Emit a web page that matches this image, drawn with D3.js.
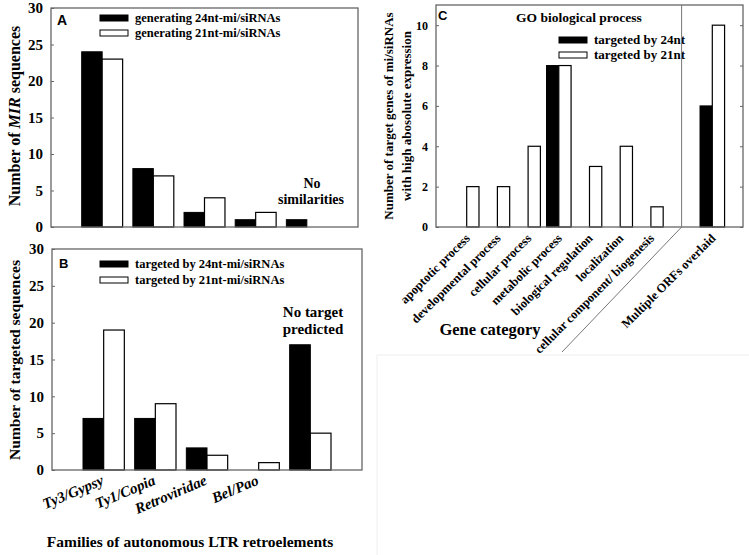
<!DOCTYPE html>
<html>
<head>
<meta charset="utf-8">
<script src="https://cdn.jsdelivr.net/npm/d3@7.9.0/dist/d3.min.js"></script>
<style>
  body { margin: 0; background: #fff; }
  svg { display: block; }
  text { font-family: "Liberation Serif", "Times New Roman", serif; font-weight: bold; fill: #000; }
  .letter { font-family: "Liberation Sans", Arial, sans-serif; }
</style>
</head>
<body>
<svg id="chart" width="749" height="555"></svg>
<script>
// panel A: MIR sequences per family
const familyPos = [1, 2, 3, 4, 5];
const mirBy24 = [24, 8, 2, 1, 1];
const mirBy21 = [23, 7, 4, 2, null];

// panel B: targeted sequences per family
const familyLabels = ["Ty3/Gypsy", "Ty1/Copia", "Retroviridae", "Bel/Pao"];
const targetBy24 = [7, 7, 3, 0, 17];
const targetBy21 = [19, 9, 2, 1, 5];

// panel C: GO categories
const goLabels = ["apoptotic process", "developmental process", "cellular process",
  "metabolic process", "biological regulation", "localization",
  "cellular component/ biogenesis", "Multiple ORFs overlaid"];
const goPos = [1, 2, 3, 4, 5, 6, 7, 9];
const goBy24 = [0, 0, 0, 8, 0, 0, 0, 6];
const goBy21 = [2, 2, 4, 8, 3, 4, 1, 10];

const svg = d3.select("#chart");
const frameColor = "#666";
const barW = 0.4; // in x units

function drawPanel(p) {
  const x = d3.scaleLinear().domain(p.xDomain).range([p.left, p.right]);
  const y = d3.scaleLinear().domain(p.yDomain).range([p.bottom, p.top]);
  const g = svg.append("g");

  // y axis: ticks inside
  const yAxis = d3.axisLeft(y).tickValues(p.ticks).tickSize(-3).tickPadding(8).tickFormat(d3.format("d"));
  const ya = g.append("g").attr("transform", `translate(${p.left},0)`).call(yAxis);
  ya.select(".domain").remove();
  ya.selectAll("line").attr("stroke", frameColor);
  ya.selectAll("text").style("font-size", p.tickFont + "px");

  if (p.rightTicks) {
    const ra = g.append("g").attr("transform", `translate(${p.right},0)`)
      .call(d3.axisRight(y).tickValues(p.ticks).tickSize(-3).tickFormat(""));
    ra.select(".domain").remove();
    ra.selectAll("line").attr("stroke", frameColor);
  }

  // bars
  const black = p.pos.map((d, i) => ({ x: d, v: p.s1[i] })).filter(d => d.v);
  const white = p.pos.map((d, i) => ({ x: d, v: p.s2[i] })).filter(d => d.v);
  g.selectAll(".b1").data(black).enter().append("rect")
    .attr("x", d => x(d.x - barW)).attr("width", x(barW) - x(0))
    .attr("y", d => y(d.v)).attr("height", d => y(0) - y(d.v))
    .attr("fill", "#000").attr("stroke", "#000");
  g.selectAll(".b2").data(white).enter().append("rect")
    .attr("x", d => x(d.x)).attr("width", x(barW) - x(0))
    .attr("y", d => y(d.v)).attr("height", d => y(0) - y(d.v))
    .attr("fill", "#fff").attr("stroke", "#000").attr("stroke-width", 1.2);

  // frame
  g.append("rect").attr("x", p.left).attr("y", p.top)
    .attr("width", p.right - p.left).attr("height", p.bottom - p.top)
    .attr("fill", "none").attr("stroke", frameColor).attr("stroke-width", 1.3);

  // legend
  p.legend.forEach((t, i) => {
    const ly = p.legY + i * p.legGap;
    g.append("rect").attr("x", p.legX).attr("y", ly - 7).attr("width", 28).attr("height", 6)
      .attr("fill", i === 0 ? "#000" : "#fff").attr("stroke", "#000");
    g.append("text").attr("x", p.legX + 35).attr("y", ly).style("font-size", p.legFont + "px").text(t);
  });

  g.append("text").attr("class", "letter").attr("x", p.letterX).attr("y", p.letterY)
    .style("font-size", p.letterFont + "px").text(p.letter);
  return { x, y, g };
}

// Panel A
const A = drawPanel({
  xDomain: [0, 6], yDomain: [0, 30], left: 51, right: 358, top: 8, bottom: 227,
  ticks: [0, 5, 10, 15, 20, 25, 30], tickFont: 15,
  pos: familyPos, s1: mirBy24, s2: mirBy21,
  legend: ["generating 24nt-mi/siRNAs", "generating 21nt-mi/siRNAs"],
  legX: 100, legY: 22, legGap: 15, legFont: 12.5,
  letter: "A", letterX: 57, letterY: 25, letterFont: 14
});
A.g.append("text").attr("x", 312).attr("y", 188).attr("text-anchor", "middle").style("font-size", "14px").text("No");
A.g.append("text").attr("x", 311).attr("y", 204).attr("text-anchor", "middle").style("font-size", "14px").text("similarities");
const yLabA = A.g.append("text").attr("transform", "translate(20,116) rotate(-90)")
  .attr("text-anchor", "middle").style("font-size", "16px");
yLabA.append("tspan").text("Number of ");
yLabA.append("tspan").style("font-style", "italic").text("MIR");
yLabA.append("tspan").text(" sequences");

// Panel B
const B = drawPanel({
  xDomain: [0, 6], yDomain: [0, 30], left: 52, right: 362, top: 249, bottom: 470,
  ticks: [0, 5, 10, 15, 20, 25, 30], tickFont: 15,
  pos: familyPos, s1: targetBy24, s2: targetBy21,
  legend: ["targeted by 24nt-mi/siRNAs", "targeted by 21nt-mi/siRNAs"],
  legX: 100, legY: 268, legGap: 16, legFont: 12.5,
  letter: "B", letterX: 59, letterY: 268, letterFont: 13
});
B.g.selectAll(".fam").data(familyLabels).enter().append("text")
  .attr("text-anchor", "end")
  .attr("transform", (d, i) => `translate(${B.x(i + 1) + 1},${484}) rotate(-23)`)
  .style("font-size", "15px").style("font-style", "italic").text(d => d);
B.g.append("text").attr("x", 313).attr("y", 317).attr("text-anchor", "middle").style("font-size", "15px").text("No target");
B.g.append("text").attr("x", 313).attr("y", 334).attr("text-anchor", "middle").style("font-size", "15px").text("predicted");
B.g.append("text").attr("transform", "translate(20,360) rotate(-90)")
  .attr("text-anchor", "middle").style("font-size", "15.5px").text("Number of targeted sequences");
B.g.append("text").attr("x", 190).attr("y", 547).attr("text-anchor", "middle")
  .style("font-size", "15.5px").text("Families of autonomous LTR retroelements");

// Panel C
const C = drawPanel({
  xDomain: [0, 10], yDomain: [0, 11], left: 436, right: 743, top: 5, bottom: 227,
  ticks: [0, 2, 4, 6, 8, 10], tickFont: 12, rightTicks: true,
  pos: goPos, s1: goBy24, s2: goBy21,
  legend: ["targeted by 24nt", "targeted by 21nt"],
  legX: 559, legY: 44, legGap: 15, legFont: 13,
  letter: "C", letterX: 438, letterY: 20, letterFont: 13
});
C.g.append("text").attr("x", 579).attr("y", 22).attr("text-anchor", "middle").style("font-size", "13.5px").text("GO biological process");
C.g.selectAll(".go").data(goLabels).enter().append("text")
  .attr("text-anchor", "end")
  .attr("transform", (d, i) => `translate(${C.x(goPos[i]) + 4},${239}) rotate(-45)`)
  .style("font-size", "12.5px").text(d => d);
// separator and diagonal
C.g.append("path")
  .attr("d", `M${C.x(8)},${C.y(11)} L${C.x(8)},${C.y(0)} L562,352`)
  .attr("fill", "none").attr("stroke", "#777").attr("stroke-width", 1);
C.g.append("text").attr("transform", "translate(393,116) rotate(-90)")
  .attr("text-anchor", "middle").style("font-size", "13px").text("Number of target genes of mi/siRNAs");
C.g.append("text").attr("transform", "translate(411,116) rotate(-90)")
  .attr("text-anchor", "middle").style("font-size", "13px").text("with high abosolute expression");
C.g.append("text").attr("x", 490).attr("y", 335).attr("text-anchor", "middle")
  .style("font-size", "16.5px").text("Gene category");

// faint border of the empty bottom-right area
svg.append("path").attr("d", "M749,355 L377,355 L377,555")
  .attr("fill", "none").attr("stroke", "#eee").attr("stroke-width", 1);
</script>
</body>
</html>
